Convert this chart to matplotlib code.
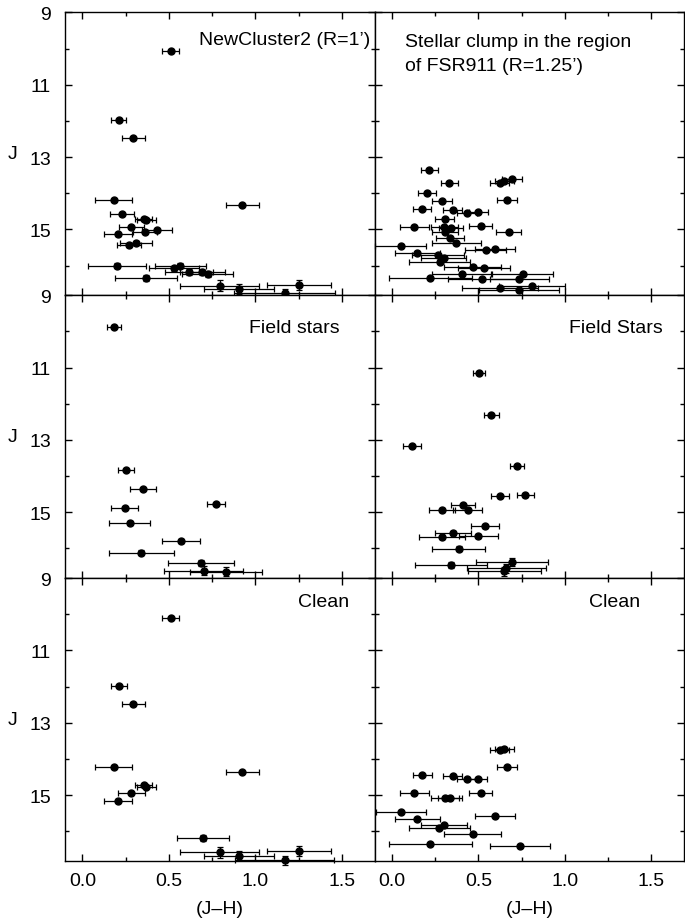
import matplotlib
matplotlib.use("Agg")
import matplotlib.pyplot as plt
from matplotlib.ticker import MultipleLocator, FixedLocator

plt.rcParams['font.family'] = ['Liberation Sans', 'DejaVu Sans']

# NewCluster2 (R=1') - observed
nc_x = [0.51, 0.21, 0.295, 0.18, 0.23, 0.354, 0.368, 0.284, 0.207, 0.36, 0.433, 0.268, 0.31,
        0.925, 0.20, 0.53, 0.567, 0.615, 0.693, 0.724, 0.368, 0.793, 0.906, 1.169, 1.251]
nc_j = [10.08, 11.97, 12.47, 14.19, 14.57, 14.71, 14.75, 14.94, 15.14, 15.07, 15.02, 15.44, 15.38,
        14.33, 16.0, 16.08, 16.01, 16.17, 16.17, 16.23, 16.34, 16.56, 16.65, 16.77, 16.53]
nc_xerr = [0.05, 0.045, 0.065, 0.106, 0.07, 0.05, 0.055, 0.075, 0.08, 0.07, 0.086, 0.07, 0.09,
           0.097, 0.17, 0.145, 0.15, 0.14, 0.13, 0.147, 0.18, 0.23, 0.2, 0.29, 0.186]
nc_jerr = [0.02, 0.02, 0.02, 0.03, 0.03, 0.03, 0.03, 0.03, 0.04, 0.04, 0.04, 0.05, 0.05,
           0.03, 0.07, 0.07, 0.07, 0.08, 0.08, 0.08, 0.09, 0.15, 0.13, 0.13, 0.14]

# stellar clump near FSR911 (R=1.25') - observed
fs_x = [0.215, 0.331, 0.623, 0.648, 0.693, 0.201, 0.291, 0.663, 0.172, 0.35, 0.433, 0.5, 0.305,
        0.13, 0.303, 0.343, 0.307, 0.513, 0.674, 0.335, 0.372, 0.05, 0.542, 0.596, 0.146, 0.264,
        0.3, 0.276, 0.466, 0.531, 0.755, 0.222, 0.404, 0.523, 0.737, 0.81, 0.623, 0.734]
fs_j = [13.35, 13.72, 13.73, 13.67, 13.6, 14.0, 14.21, 14.19, 14.43, 14.45, 14.54, 14.53, 14.7,
        14.92, 14.94, 14.97, 15.06, 14.91, 15.08, 15.24, 15.38, 15.45, 15.57, 15.55, 15.65, 15.71,
        15.79, 15.9, 16.04, 16.08, 16.22, 16.34, 16.24, 16.37, 16.37, 16.56, 16.62, 16.68]
fs_xerr = [0.05, 0.05, 0.055, 0.055, 0.056, 0.052, 0.058, 0.058, 0.053, 0.053, 0.06, 0.053, 0.054,
           0.083, 0.08, 0.07, 0.075, 0.066, 0.072, 0.08, 0.14, 0.146, 0.12, 0.115, 0.13, 0.15,
           0.13, 0.175, 0.165, 0.15, 0.175, 0.24, 0.17, 0.2, 0.17, 0.19, 0.22, 0.23]

# field stars
nc_fx = [0.184, 0.253, 0.352, 0.245, 0.772, 0.274, 0.569, 0.341, 0.684, 0.701, 0.831]
nc_fj = [9.88, 13.84, 14.36, 14.88, 14.76, 15.29, 15.8, 16.12, 16.4, 16.61, 16.64]
nc_fxerr = [0.04, 0.046, 0.075, 0.078, 0.053, 0.119, 0.111, 0.187, 0.19, 0.23, 0.21]
nc_fjerr = [0.02, 0.03, 0.03, 0.04, 0.03, 0.05, 0.06, 0.07, 0.09, 0.13, 0.13]

fs_fx = [0.502, 0.575, 0.113, 0.724, 0.625, 0.77, 0.412, 0.289, 0.437, 0.536, 0.354, 0.289,
         0.5, 0.387, 0.341, 0.693, 0.661, 0.649]
fs_fj = [11.15, 12.31, 13.16, 13.72, 14.55, 14.53, 14.8, 14.94, 14.94, 15.39, 15.57, 15.69,
         15.66, 16.01, 16.46, 16.37, 16.55, 16.63]
fs_fxerr = [0.034, 0.041, 0.052, 0.04, 0.052, 0.049, 0.068, 0.073, 0.082, 0.082, 0.105, 0.133,
            0.114, 0.153, 0.21, 0.21, 0.228, 0.21]
fs_fjerr = [0.02, 0.02, 0.03, 0.03, 0.04, 0.04, 0.04, 0.05, 0.05, 0.05, 0.06, 0.06,
            0.06, 0.07, 0.09, 0.12, 0.12, 0.12]

# decontaminated (clean)
nc_cx = [0.51, 0.211, 0.295, 0.18, 0.925, 0.354, 0.368, 0.284, 0.207, 0.697, 0.793, 0.906, 1.169, 1.251]
nc_cj = [10.11, 11.99, 12.49, 14.21, 14.36, 14.73, 14.77, 14.94, 15.15, 16.18, 16.58, 16.67, 16.8, 16.55]
nc_cxerr = [0.05, 0.045, 0.065, 0.106, 0.097, 0.05, 0.055, 0.077, 0.082, 0.15, 0.226, 0.204, 0.287, 0.186]
nc_cjerr = [0.02, 0.02, 0.02, 0.03, 0.03, 0.03, 0.03, 0.03, 0.04, 0.08, 0.15, 0.13, 0.13, 0.14]

fs_cx = [0.623, 0.648, 0.663, 0.174, 0.35, 0.433, 0.5, 0.13, 0.513, 0.305, 0.337, 0.05, 0.596,
         0.146, 0.3, 0.274, 0.466, 0.222, 0.739]
fs_cj = [13.74, 13.71, 14.22, 14.45, 14.46, 14.56, 14.55, 14.93, 14.93, 15.08, 15.09, 15.47, 15.58,
         15.67, 15.83, 15.91, 16.08, 16.36, 16.41]
fs_cxerr = [0.055, 0.055, 0.058, 0.055, 0.053, 0.06, 0.052, 0.083, 0.066, 0.08, 0.07, 0.144, 0.114,
            0.13, 0.132, 0.175, 0.165, 0.238, 0.172]

j_major = [9, 11, 13, 15]
j_minor = [10, 12, 14, 16]

panels = [
    (nc_x, nc_j, nc_xerr, nc_jerr, "NewCluster2 (R=1\u2019)", 0.987, 0.905, "right"),
    (fs_x, fs_j, fs_xerr, None, "Stellar clump in the region\nof FSR911 (R=1.25\u2019)", 0.097, 0.854, "left"),
    (nc_fx, nc_fj, nc_fxerr, nc_fjerr, "Field stars", 0.887, 0.886, "right"),
    (fs_fx, fs_fj, fs_fxerr, fs_fjerr, "Field Stars", 0.929, 0.886, "right"),
    (nc_cx, nc_cj, nc_cxerr, nc_cjerr, "Clean", 0.916, 0.919, "right"),
    (fs_cx, fs_cj, fs_cxerr, None, "Clean", 0.858, 0.919, "right"),
]

fs = 14

fig, axes = plt.subplots(3, 2, figsize=(6.85, 9.2), dpi=100, sharex=True, sharey=True)
fig.subplots_adjust(left=0.095, right=0.999, top=0.9855, bottom=0.063, hspace=0, wspace=0)

for ax, (x, j, xe, je, label, tx, ty, ha) in zip(axes.flat, panels):
    ax.errorbar(x, j, xerr=xe, yerr=je, fmt='o', color='black', ms=5,
                elinewidth=0.9, capsize=2, capthick=0.9, clip_on=False)
    ax.text(tx, ty, label, transform=ax.transAxes, ha=ha, va='center',
            fontsize=fs, linespacing=1.5)
    ax.set_xlim(-0.1, 1.69)
    ax.set_ylim(16.82, 9)
    ax.xaxis.set_major_locator(MultipleLocator(0.5))
    ax.xaxis.set_minor_locator(MultipleLocator(0.25))
    ax.yaxis.set_major_locator(FixedLocator(j_major))
    ax.yaxis.set_minor_locator(FixedLocator(j_minor))
    ax.tick_params(which='both', direction='in', top=True, right=True, width=1,
                   labelsize=fs)
    ax.tick_params(which='major', length=5)
    ax.tick_params(which='minor', length=3)
    ax.tick_params(axis='y', pad=10)
    ax.tick_params(axis='x', pad=8)
    for s in ax.spines.values():
        s.set_linewidth(1)

for ax in axes[:, 0]:
    ax.set_ylabel('J', rotation=0, fontsize=fs, va='center', ha='center')
    ax.yaxis.set_label_coords(-0.17, 0.5)
for ax in axes[-1, :]:
    ax.set_xlabel('(J\u2013H)', fontsize=fs, labelpad=8)

fig.savefig('out.png', dpi=100)
